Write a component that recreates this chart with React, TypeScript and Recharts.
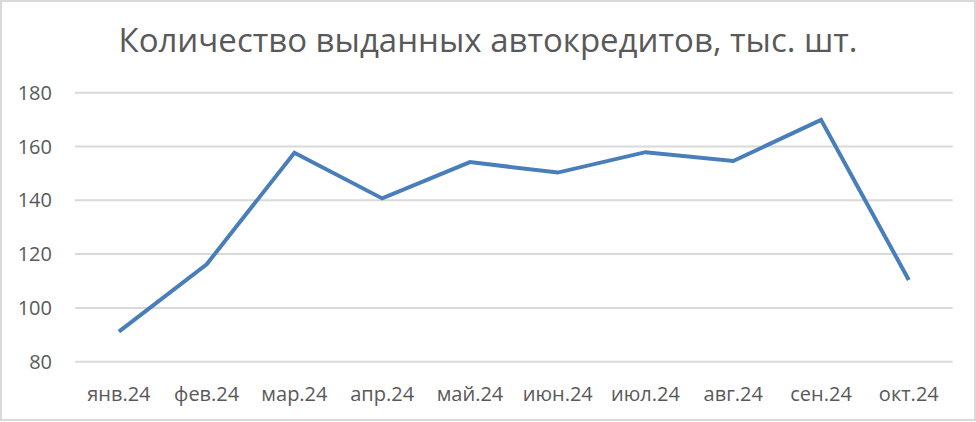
import { LineChart, Line, XAxis, YAxis, CartesianGrid } from 'recharts';

const months = ['янв.24', 'фев.24', 'мар.24', 'апр.24', 'май.24', 'июн.24', 'июл.24', 'авг.24', 'сен.24', 'окт.24'];
const loans = [91.2, 116.2, 157.7, 140.7, 154.2, 150.3, 157.9, 154.6, 169.9, 110.4];
const yTicks = [80, 100, 120, 140, 160, 180];
const title = 'Количество выданных автокредитов, тыс. шт.';

const TEXT = '#595959';
const FONT = '"Open Sans", sans-serif';

export default function App() {
    const data = months.map((m, i) => ({ name: m, value: loans[i] }));

    return (
        <div style={{ position: 'absolute', left: 0, top: 0, width: 976, height: 422, background: '#fff', fontFamily: FONT }}>
            <div style={{ position: 'absolute', left: 0, top: 0, width: 976, height: 421, border: '2px solid #d9d9d9', boxSizing: 'border-box' }} />
            <svg width={976} height={70} style={{ position: 'absolute', left: 0, top: 0 }}>
                <text x={488} y={52} textAnchor="middle" fill={TEXT} fontSize={33} fontFamily={FONT}>
                    {title}
                </text>
            </svg>
            <LineChart
                width={976}
                height={422}
                data={data}
                margin={{ top: 92.7, right: 23.3, bottom: 30.3, left: 0 }}
                style={{ position: 'absolute', left: 0, top: 0 }}
            >
                <CartesianGrid vertical={false} stroke="#d9d9d9" strokeWidth={2} />
                <XAxis
                    dataKey="name"
                    axisLine={false}
                    tickLine={false}
                    padding={{ left: 43.9, right: 43.9 }}
                    tick={{ fill: TEXT, fontSize: 20, fontFamily: FONT }}
                    tickMargin={19}
                    interval={0}
                />
                <YAxis
                    domain={[80, 180]}
                    ticks={yTicks}
                    axisLine={false}
                    tickLine={false}
                    width={75}
                    tick={{ fill: TEXT, fontSize: 20, fontFamily: FONT }}
                    tickMargin={17}
                />
                <Line
                    type="linear"
                    dataKey="value"
                    stroke="#4a7ebb"
                    strokeWidth={4}
                    dot={false}
                    isAnimationActive={false}
                />
            </LineChart>
        </div>
    );
}
